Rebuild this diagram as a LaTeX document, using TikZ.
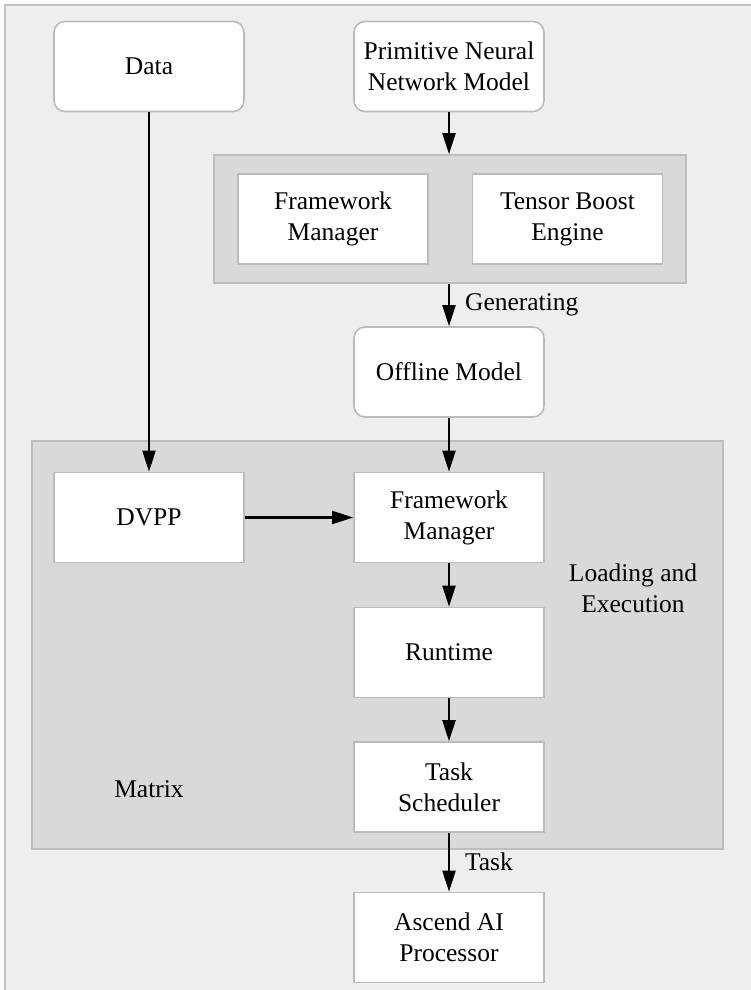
\documentclass[tikz,border=0pt]{standalone}
\usepackage{fontspec}
\setmainfont{Liberation Serif}
\usetikzlibrary{arrows.meta}
\definecolor{bgfill}{HTML}{EEEEEE}
\definecolor{bgline}{HTML}{C2C2C2}
\definecolor{grpfill}{HTML}{D9D9D9}
\definecolor{grpline}{HTML}{BDBDBD}
\definecolor{boxline}{HTML}{BBBBBB}
\begin{document}
\begin{tikzpicture}[x=1pt,y=-1pt,
  font=\fontsize{25.5}{31}\selectfont,
  box/.style={draw=boxline, line width=1.6pt, fill=white, minimum width=190pt, minimum height=90pt, inner sep=2pt, align=center},
  rbox/.style={box, rounded corners=11pt},
  grp/.style={draw=grpline, line width=1.6pt, fill=grpfill, inner sep=0pt},
  arr/.style={line width=2.2pt, -{Triangle[length=21pt,width=13pt]}},
  lbl/.style={inner sep=0pt, align=center}]
\useasboundingbox (0,0) rectangle (751,990);
% outer frame
\fill[bgfill] (4,4) rectangle (751,990);
\draw[bgline, line width=2.5pt] (5,990) -- (5,5) -- (751,5);
% groups
\node[grp, minimum width=472pt, minimum height=128pt] (gen) at (450,219) {};
\node[grp, minimum width=691pt, minimum height=408pt] (matrix) at (377.5,645) {};
% boxes
\node[rbox] (data) at (149,66.5) {Data};
\node[rbox] (prim) at (449,66.5) {Primitive Neural\\Network Model};
\node[box] (fm1) at (333,219) {Framework\\Manager};
\node[box] (tbe) at (567.5,219) {Tensor Boost\\Engine};
\node[rbox] (off) at (449,372) {Offline Model};
\node[box] (dvpp) at (149,517.5) {DVPP};
\node[box] (fm2) at (449,517.5) {Framework\\Manager};
\node[box] (rt) at (449,652.5) {Runtime};
\node[box] (ts) at (449,787) {Task\\Scheduler};
\node[box] (asc) at (449,937.5) {Ascend AI\\Processor};
% labels
\node[lbl] (le) at (633,588.5) {Loading and\\Execution};
\node[lbl] (mx) at (149,789) {Matrix};
% connectors
\draw[arr] (data.south) -- (dvpp.north);
\draw[arr] (prim.south) -- (prim.south |- gen.north);
\draw[arr] (off.north |- gen.south) -- node[lbl, anchor=west, xshift=15pt] (genl) {Generating} (off.north);
\draw[arr] (off.south) -- (fm2.north);
\draw[arr] (dvpp.east) -- (fm2.west);
\draw[arr] (fm2.south) -- (rt.north);
\draw[arr] (rt.south) -- (ts.north);
\draw[arr] (ts.south) -- node[lbl, anchor=west, xshift=15pt] (taskl) {Task} (asc.north);
\end{tikzpicture}
\end{document}
